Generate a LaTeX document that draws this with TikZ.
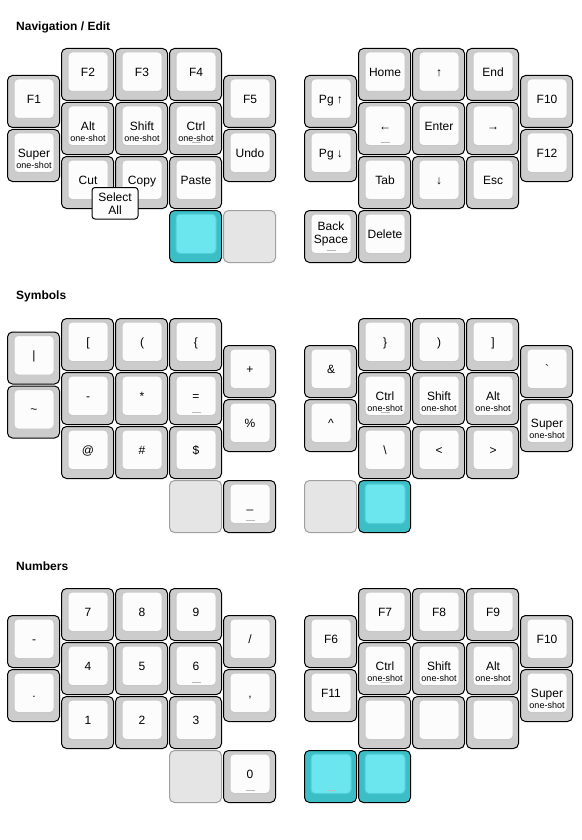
\documentclass[tikz,border=0pt]{standalone}
\usepackage{fontspec}
\setmainfont{Liberation Sans}
\usepackage{tikz}
\usepackage{xcolor}
\definecolor{capgray}{RGB}{204,204,204}
\definecolor{capface}{RGB}{252,252,252}
\definecolor{capedge}{RGB}{200,200,200}
\definecolor{heldteal}{RGB}{60,190,198}
\definecolor{heldface}{RGB}{108,230,238}
\definecolor{heldedge}{RGB}{80,206,214}
\definecolor{transfill}{RGB}{229,229,229}
\definecolor{transedge}{RGB}{160,160,160}
\definecolor{markgray}{RGB}{185,185,185}
\tikzset{
    keybody/.style={draw=black, fill=capgray, line width=1pt, rounded corners=5pt},
    keytop/.style={draw=capedge, fill=capface, line width=1pt, rounded corners=4pt},
    heldbody/.style={draw=black, fill=heldteal, line width=1pt, rounded corners=5pt},
    heldtop/.style={draw=heldedge, fill=heldface, line width=1pt, rounded corners=4pt},
    transbody/.style={draw=transedge, fill=transfill, line width=1pt, rounded corners=5pt},
    keylabel/.style={font=\fontsize{12}{12}\selectfont, inner sep=0pt, text height=8.6pt, text depth=0pt, align=center},
    twoline/.style={text height={}, text depth={}, font=\fontsize{12}{12.5}\selectfont},
    subtag/.style={font=\fontsize{9}{9}\selectfont, inner sep=0pt, text height=6.5pt, text depth=0pt},
    homebar/.style={draw=markgray, line width=1pt},
    combo/.style={draw=black, fill=capface, line width=1pt, rounded corners=3pt},
    layertitle/.style={font=\bfseries\fontsize{12}{12}\selectfont, anchor=west, inner sep=0pt, text height=8.6pt, text depth=0pt}
}
% one key: [label style]{name}{x}{y}{label}
\newcommand{\keycap}[5][]{%
    \draw[keybody] (#3+0.5,#4+0.5) rectangle (#3+52.5,#4+52.5);
    \draw[keytop] (#3+7,#4+4) rectangle (#3+47,#4+43.5);
    \node[keylabel,#1] (#2) at (#3+27,#4+24) {#5};
}
\newcommand{\oneshot}[4]{%
    \keycap{#1}{#2}{#3}{#4}
    \node[subtag] (#1-tag) at (#2+27,#3+36.5) {one-shot};
}
\newcommand{\heldkey}[2]{%
    \draw[heldbody] (#1+0.5,#2+0.5) rectangle (#1+52.5,#2+52.5);
    \draw[heldtop] (#1+7,#2+4) rectangle (#1+47,#2+43.5);
}
\newcommand{\transkey}[2]{%
    \draw[transbody] (#1+0.5,#2+0.5) rectangle (#1+52.5,#2+52.5);
}
\newcommand{\homemark}[2]{\draw[homebar] (#1+22.5,#2+40) -- (#1+31.5,#2+40);}

\begin{document}
\begin{tikzpicture}[x=1pt, y=-1pt]
    \useasboundingbox (0,0) rectangle (581,840);

    % Navigation / Edit
    \node[layertitle] (navtitle) at (16,26.5) {Navigation / Edit};
    \keycap{nav-f1}{7}{75}{F1}
    \oneshot{nav-super}{7}{129}{Super}
    \keycap{nav-f2}{61}{48}{F2}
    \keycap{nav-f3}{115}{48}{F3}
    \keycap{nav-f4}{169}{48}{F4}
    \oneshot{nav-alt}{61}{102}{Alt}
    \oneshot{nav-shift}{115}{102}{Shift}
    \oneshot{nav-ctrl}{169}{102}{Ctrl}
    \homemark{169}{102}
    \keycap{nav-cut}{61}{156}{Cut}
    \keycap{nav-copy}{115}{156}{Copy}
    \keycap{nav-paste}{169}{156}{Paste}
    \keycap{nav-f5}{223}{75}{F5}
    \keycap{nav-undo}{223}{129}{Undo}
    \heldkey{169}{210}
    \transkey{223}{210}
    \draw[combo] (92,187.5) rectangle (138,219);
    \node[keylabel, twoline] (nav-selall) at (115,203.5) {Select\\All};

    \keycap{nav-pgup}{304}{75}{Pg ↑}
    \keycap{nav-pgdn}{304}{129}{Pg ↓}
    \keycap{nav-home}{358}{48}{Home}
    \keycap{nav-up}{412}{48}{↑}
    \keycap{nav-end}{466}{48}{End}
    \keycap{nav-left}{358}{102}{←}
    \homemark{358}{102}
    \keycap{nav-enter}{412}{102}{Enter}
    \keycap{nav-right}{466}{102}{→}
    \keycap{nav-tab}{358}{156}{Tab}
    \keycap{nav-down}{412}{156}{↓}
    \keycap{nav-esc}{466}{156}{Esc}
    \keycap{nav-f10}{520}{75}{F10}
    \keycap{nav-f12}{520}{129}{F12}
    \keycap[twoline]{nav-bksp}{304}{210}{Back\\Space}
    \homemark{304}{210}
    \keycap{nav-delete}{358}{210}{Delete}

    % Symbols
    \node[layertitle] (symtitle) at (16,295) {Symbols};
    \keycap{sym-pipe}{7}{331.5}{|}
    \keycap{sym-tilde}{7}{385.5}{\textasciitilde}
    \keycap{sym-lbrack}{61}{318}{[}
    \keycap{sym-lparen}{115}{318}{(}
    \keycap{sym-lbrace}{169}{318}{\{}
    \keycap{sym-minus}{61}{372}{-}
    \keycap{sym-star}{115}{372}{*}
    \keycap{sym-equal}{169}{372}{=}
    \homemark{169}{372}
    \keycap{sym-at}{61}{426}{@}
    \keycap{sym-hash}{115}{426}{\#}
    \keycap{sym-dollar}{169}{426}{\$}
    \keycap{sym-plus}{223}{345}{+}
    \keycap{sym-percent}{223}{399}{\%}
    \transkey{169}{480}
    \keycap{sym-under}{223}{480}{\_}
    \homemark{223}{480}

    \keycap{sym-amp}{304}{345}{\&}
    \keycap{sym-caret}{304}{399}{\textasciicircum}
    \keycap{sym-rbrace}{358}{318}{\}}
    \keycap{sym-rparen}{412}{318}{)}
    \keycap{sym-rbrack}{466}{318}{]}
    \oneshot{sym-ctrl}{358}{372}{Ctrl}
    \homemark{358}{372}
    \oneshot{sym-shift}{412}{372}{Shift}
    \oneshot{sym-alt}{466}{372}{Alt}
    \keycap{sym-bslash}{358}{426}{\textbackslash}
    \keycap{sym-less}{412}{426}{<}
    \keycap{sym-greater}{466}{426}{>}
    \keycap{sym-grave}{520}{345}{\textasciigrave}
    \oneshot{sym-super}{520}{399}{Super}
    \transkey{304}{480}
    \heldkey{358}{480}

    % Numbers
    \node[layertitle] (numtitle) at (16,566.5) {Numbers};
    \keycap{num-minus}{7}{615}{-}
    \keycap{num-dot}{7}{669}{.}
    \keycap{num-7}{61}{588}{7}
    \keycap{num-8}{115}{588}{8}
    \keycap{num-9}{169}{588}{9}
    \keycap{num-4}{61}{642}{4}
    \keycap{num-5}{115}{642}{5}
    \keycap{num-6}{169}{642}{6}
    \homemark{169}{642}
    \keycap{num-1}{61}{696}{1}
    \keycap{num-2}{115}{696}{2}
    \keycap{num-3}{169}{696}{3}
    \keycap{num-slash}{223}{615}{/}
    \keycap{num-comma}{223}{669}{,}
    \transkey{169}{750}
    \keycap{num-0}{223}{750}{0}
    \homemark{223}{750}

    \keycap{num-f6}{304}{615}{F6}
    \keycap{num-f11}{304}{669}{F11}
    \keycap{num-f7}{358}{588}{F7}
    \keycap{num-f8}{412}{588}{F8}
    \keycap{num-f9}{466}{588}{F9}
    \oneshot{num-ctrl}{358}{642}{Ctrl}
    \homemark{358}{642}
    \oneshot{num-shift}{412}{642}{Shift}
    \oneshot{num-alt}{466}{642}{Alt}
    \keycap{num-blank1}{358}{696}{}
    \keycap{num-blank2}{412}{696}{}
    \keycap{num-blank3}{466}{696}{}
    \keycap{num-f10}{520}{615}{F10}
    \oneshot{num-super}{520}{669}{Super}
    \heldkey{304}{750}
    \homemark{304}{750}
    \heldkey{358}{750}
\end{tikzpicture}
\end{document}
